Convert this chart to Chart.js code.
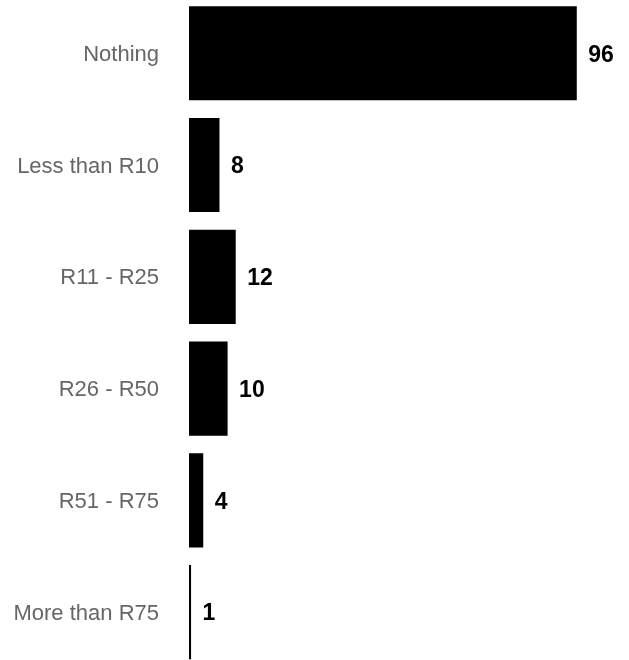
<!DOCTYPE html>
<html>
<head>
<meta charset="utf-8">
<script src="https://cdn.jsdelivr.net/npm/chart.js@4"></script>
<style>
  html, body { margin: 0; padding: 0; background: #fff; overflow: hidden; width: 629px; height: 660px; }
  #wrap { position: absolute; left: 0; top: -3px; width: 629px; height: 671px; }
</style>
</head>
<body>
<div id="wrap"><canvas id="c" width="629" height="671"></canvas></div>
<script>
const categories = ["Nothing", "Less than R10", "R11 - R25", "R26 - R50", "R51 - R75", "More than R75"];
const counts = [96, 8, 12, 10, 4, 1];

const FONT = "'Liberation Sans', Arial, Helvetica, sans-serif";

const valueLabels = {
  id: 'valueLabels',
  afterDatasetsDraw(chart) {
    const ctx = chart.ctx;
    const meta = chart.getDatasetMeta(0);
    ctx.save();
    ctx.font = "bold 23px " + FONT;
    ctx.fillStyle = "#000";
    ctx.textAlign = "left";
    ctx.textBaseline = "middle";
    meta.data.forEach((bar, i) => {
      ctx.fillText(String(counts[i]), bar.x + 10.5, bar.y + 2);
    });
    ctx.restore();
  }
};

new Chart(document.getElementById('c'), {
  type: 'bar',
  data: {
    labels: categories,
    datasets: [{
      data: counts,
      backgroundColor: '#000',
      borderColor: '#fff',
      borderWidth: 1,
      borderSkipped: false,
      categoryPercentage: 1,
      barPercentage: 0.86
    }]
  },
  options: {
    indexAxis: 'y',
    responsive: false,
    animation: false,
    devicePixelRatio: 1,
    layout: { padding: { top: 0.4, right: 2.5, bottom: 0, left: 0 } },
    plugins: { legend: { display: false }, tooltip: { enabled: false } },
    scales: {
      x: { display: false, min: 0, max: 108 },
      y: {
        grid: { display: false, drawTicks: false },
        border: { display: false },
        ticks: { color: '#666', padding: 29, labelOffset: 1.5, font: { family: FONT, size: 22 } },
        afterFit(scale) {
          scale.width = 188;
          scale.paddingTop = 0;
          scale.paddingBottom = 0;
        }
      }
    }
  },
  plugins: [valueLabels]
});
</script>
</body>
</html>
